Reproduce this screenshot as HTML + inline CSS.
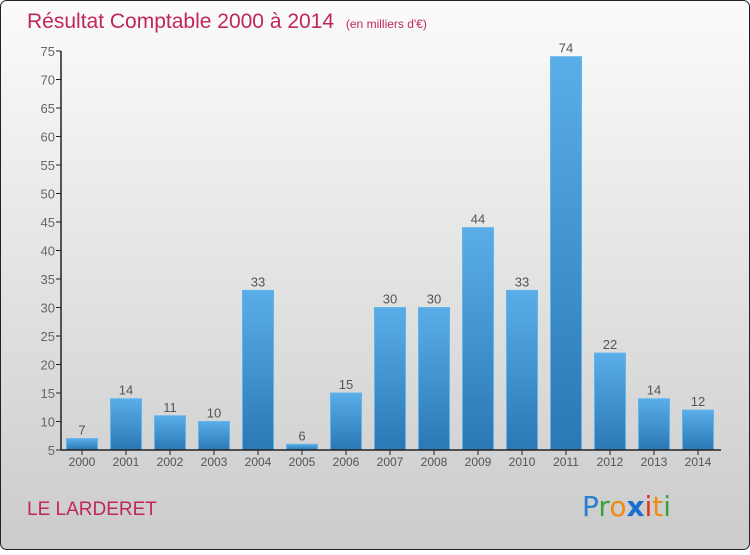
<!DOCTYPE html>
<html><head><meta charset="utf-8"><style>
body{margin:0;width:750px;height:550px;overflow:hidden;font-family:"Liberation Sans",sans-serif}
</style></head><body>
<svg width="750" height="550" xmlns="http://www.w3.org/2000/svg">
<defs>
<linearGradient id="bg" x1="0" y1="0" x2="0" y2="1"><stop offset="0" stop-color="#fbfbfb"/><stop offset="1" stop-color="#cbcbcb"/></linearGradient>
<linearGradient id="bar" x1="0" y1="0" x2="0" y2="1"><stop offset="0" stop-color="#5aaee8"/><stop offset="1" stop-color="#2a78b4"/></linearGradient>
</defs>
<rect x="0.5" y="0.5" width="749" height="549" rx="6" fill="url(#bg)" stroke="#222"/>
<text x="27" y="28" font-size="21" fill="#c0265a">Résultat Comptable 2000 à 2014 <tspan font-size="12" dx="6">(en milliers d'€)</tspan></text>
<g id="plot"></g>
<text x="27" y="515" font-size="19" fill="#c0265a">LE LARDERET</text>
<text x="582" y="516" font-size="28" font-family="'DejaVu Sans',sans-serif"><tspan fill="#2a7fd0">P</tspan><tspan fill="#3aa040">r</tspan><tspan fill="#f08a10">o</tspan><tspan fill="#1a6fd0" font-weight="bold">x</tspan><tspan fill="#e03020">i</tspan><tspan fill="#f08a10">t</tspan><tspan fill="#3aa040">i</tspan></text>
</svg>
<script>
const categories=["2000","2001","2002","2003","2004","2005","2006","2007","2008","2009","2010","2011","2012","2013","2014"];
const values=[7,14,11,10,33,6,15,30,30,44,33,74,22,14,12];
const yTicks=[5,10,15,20,25,30,35,40,45,50,55,60,65,70,75];
const NS="http://www.w3.org/2000/svg";
const g=document.getElementById('plot');
const y=v=>450-(v-5)*399/70;
const x=i=>82+i*44;
function mk(t,a){const e=document.createElementNS(NS,t);for(const k in a)e.setAttribute(k,a[k]);g.appendChild(e);return e;}
yTicks.forEach(t=>{
 const tk=mk('line',{x1:56,x2:61,y1:y(t),y2:y(t),stroke:'#222'});
 
 
 const tl=mk('text',{x:55,y:y(t)+5,'text-anchor':'end','font-size':13,fill:'#666'});
 tl.textContent=t;
 
 
});
values.forEach((v,i)=>{
 const b=mk('rect',{x:x(i)-15.5,y:y(v),width:31,height:450-y(v),fill:'url(#bar)',stroke:'#62b4ec','stroke-width':1});
 
 
 const vl=mk('text',{x:x(i),y:y(v)-4,'text-anchor':'middle','font-size':13,fill:'#555'});
 vl.textContent=v;
 
 
 const tk=mk('line',{x1:x(i),x2:x(i),y1:450,y2:455,stroke:'#222'});
 
 
 const xl=mk('text',{x:x(i),y:466,'text-anchor':'middle','font-size':12,fill:'#555'});
 xl.textContent=categories[i];
 
 
});
const ya=mk('line',{x1:61,x2:61,y1:51,y2:450,stroke:'#222','stroke-width':1.5});


const xa=mk('line',{x1:61,x2:721,y1:450,y2:450,stroke:'#222','stroke-width':1.5});


</script>
</body></html>
